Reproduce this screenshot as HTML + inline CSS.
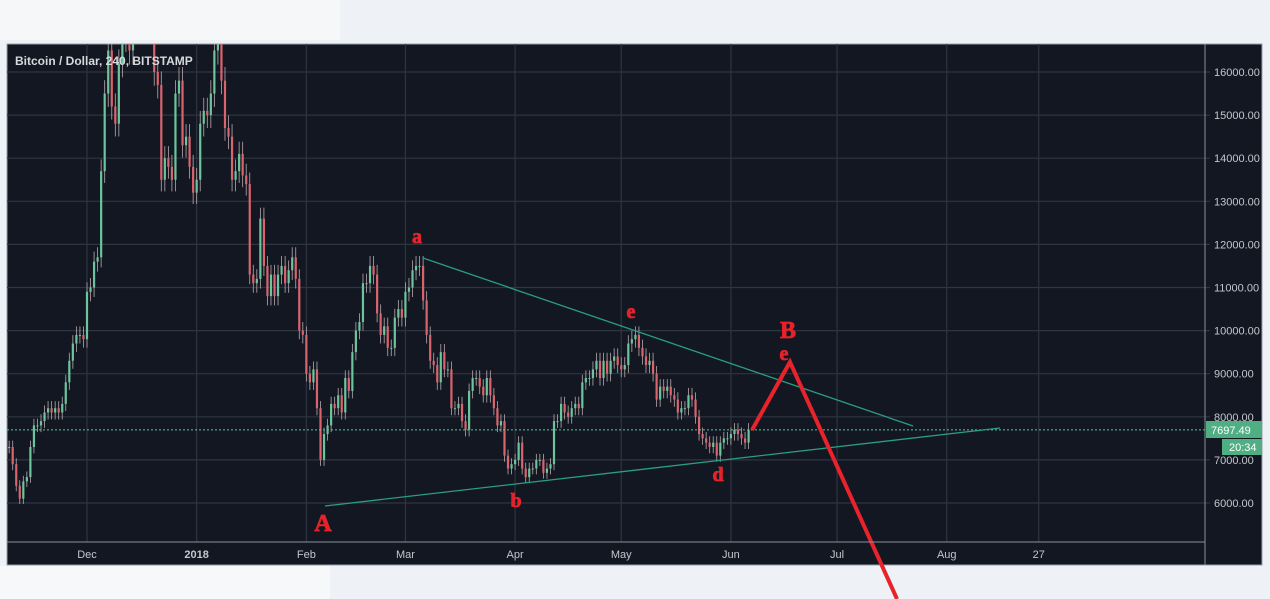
<!DOCTYPE html>
<html><head><meta charset="utf-8"><style>
html,body{margin:0;padding:0;background:#eef1f5;width:1270px;height:599px;overflow:hidden;font-family:"Liberation Sans",sans-serif}
svg{position:absolute;left:0;top:0}
</style></head><body>
<svg id="chart" width="1270" height="599" xmlns="http://www.w3.org/2000/svg">
<rect x="0" y="0" width="340" height="40" fill="#f6f7f9"/>
<rect x="7" y="44" width="1255" height="521" fill="#131722" stroke="#9aa0ab" stroke-width="1"/>
<g id="grid"></g>
<g id="candles" clip-path="url(#plotclip)"></g>
<defs><clipPath id="plotclip"><rect x="7" y="44" width="1198" height="498"/></clipPath></defs>
<g id="overlay"></g>
<g id="axes"></g>
<rect x="0" y="566" width="330" height="33" fill="#f7f8fa"/>
</svg>
<script>
const priceTicks=[6000,7000,8000,9000,10000,11000,12000,13000,14000,15000,16000];
const timeLabels=["Dec","2018","Feb","Mar","Apr","May","Jun","Jul","Aug","27"];
const timeLabelDays=[22,53,84,112,143,173,204,234,265,291];
const closes=[7300,6900,6400,6100,6500,6600,7300,7800,7800,7900,
8100,8200,8100,8200,8100,8300,8800,9300,9700,9900,
9900,9800,10900,11000,11600,11700,13700,15500,16500,15200,
14800,16200,17000,16800,16500,17300,17800,19000,19200,18800,
17500,16000,15700,13500,14000,13800,13500,15500,15800,14300,
14500,13800,13200,13500,14800,15100,15000,15500,16500,16800,
15800,14700,14500,13500,13700,14100,13600,13400,11300,11100,
11200,12600,11500,10800,11300,10800,11300,11500,11100,11400,
11700,11200,10000,9900,9000,8800,9100,8200,7000,7600,
7800,8300,8200,8500,8100,8900,8600,9500,10000,10200,
11100,11100,11500,11300,10400,9900,10100,9600,9600,10300,
10500,10300,10900,11000,11400,11500,11500,10700,9900,9300,
9200,8800,9500,9100,9100,8200,8200,8300,7900,7700,
8600,8900,8900,8700,8500,8900,8500,8200,7800,7900,
7100,6800,6900,7000,7400,6800,6600,6800,6800,7000,
7000,6700,6800,6900,7900,7900,8300,8100,8000,8200,
8300,8200,8800,8900,8900,9100,9300,8900,9300,9000,
9300,9400,9200,9100,9200,9700,9800,9900,9600,9400,
9200,9300,9000,8400,8700,8600,8700,8500,8400,8100,
8200,8200,8500,8400,8000,7600,7500,7400,7300,7400,
7100,7400,7500,7500,7600,7700,7600,7500,7400,7700];
const lastPrice=7697.49;
const NS="http://www.w3.org/2000/svg";
function yS(p){return 72+(16000-p)*0.0431;}
function xS(d){return 87+(d-22)*3.538;}
function mk(tag,attrs,parent){const e=document.createElementNS(NS,tag);for(const k in attrs)e.setAttribute(k,attrs[k]);parent.appendChild(e);return e;}
const grid=document.getElementById('grid'),cg=document.getElementById('candles'),ov=document.getElementById('overlay'),ax=document.getElementById('axes');
priceTicks.forEach(p=>{
 const l=mk('line',{x1:7,x2:1210,y1:yS(p),y2:yS(p),stroke:'#2f3441','stroke-width':1.2},grid);
 
 
 const t=mk('text',{x:1214,y:yS(p)+4,fill:'#c3c6cc','font-size':11},ax);t.textContent=p.toFixed(2);
 
 
});
timeLabels.forEach((s,i)=>{
 const x=xS(timeLabelDays[i]);
 const l=mk('line',{x1:x,x2:x,y1:44,y2:542,stroke:'#2f3441','stroke-width':1.2},grid);
 
 
 const t=mk('text',{x:x,y:558,fill:'#c3c6cc','font-size':11,'text-anchor':'middle','font-weight':s==='2018'?'bold':'normal'},ax);t.textContent=s;
 
 
});
mk('line',{x1:1205,x2:1205,y1:44,y2:565,stroke:'#8a909b'},ax);
mk('line',{x1:7,x2:1205,y1:542,y2:542,stroke:'#8a909b'},ax);
closes.forEach((c,i)=>{
 const o=i?closes[i-1]:c;const up=c>=o;const col=up?'#6cc49c':'#d9646e';
 const x=xS(i);const hi=Math.max(o,c)*1.02,lo=Math.min(o,c)*0.98;
 const w=mk('line',{x1:x,x2:x,y1:yS(hi),y2:yS(lo),stroke:'#b9a9ad','stroke-width':0.8},cg);
 
 
 const b=mk('rect',{x:x-1.1,y:Math.min(yS(o),yS(c)),width:2.2,height:Math.max(1,Math.abs(yS(o)-yS(c))),fill:col},cg);
 
 
});
const lp=mk('line',{x1:7,x2:1205,y1:yS(lastPrice),y2:yS(lastPrice),stroke:'#5fc4a0','stroke-dasharray':'2,2','stroke-width':1},ov);


const tl1=mk('line',{x1:423,y1:258,x2:913,y2:426,stroke:'#2a9d85','stroke-width':1.3},ov);


const tl2=mk('line',{x1:325,y1:506,x2:1000,y2:428,stroke:'#2a9d85','stroke-width':1.3},ov);


const rp=mk('polyline',{points:'752,430 790,362 897,599',fill:'none',stroke:'#e8232b','stroke-width':4},ov);


[['a',417,243,20],['e',631,318,20],['B',788,338,24],['e',784,360,20],['A',323,531,24],['b',516,507,20],['d',718,481,20]].forEach(a=>{
 const t=mk('text',{x:a[1],y:a[2],fill:'#e4232b','font-size':a[3],'font-weight':'bold','font-family':'Liberation Serif, serif','text-anchor':'middle','stroke':'#e4232b','stroke-width':0.8},ov);t.textContent=a[0];
 
 
});
const pb=mk('rect',{x:1206,y:421,width:56,height:17,fill:'#4fae82'},ax);


const pt=mk('text',{x:1211,y:434,fill:'#fff','font-size':11},ax);pt.textContent='7697.49';


const cb=mk('rect',{x:1222,y:439,width:40,height:16,fill:'#4fae82'},ax);


const ct=mk('text',{x:1229,y:451,fill:'#fff','font-size':11},ax);ct.textContent='20:34';


const title=mk('text',{x:15,y:65,fill:'#d6d8dc','font-size':12,'font-weight':'bold'},ov);title.textContent='Bitcoin / Dollar, 240, BITSTAMP';


</script>
</body></html>
